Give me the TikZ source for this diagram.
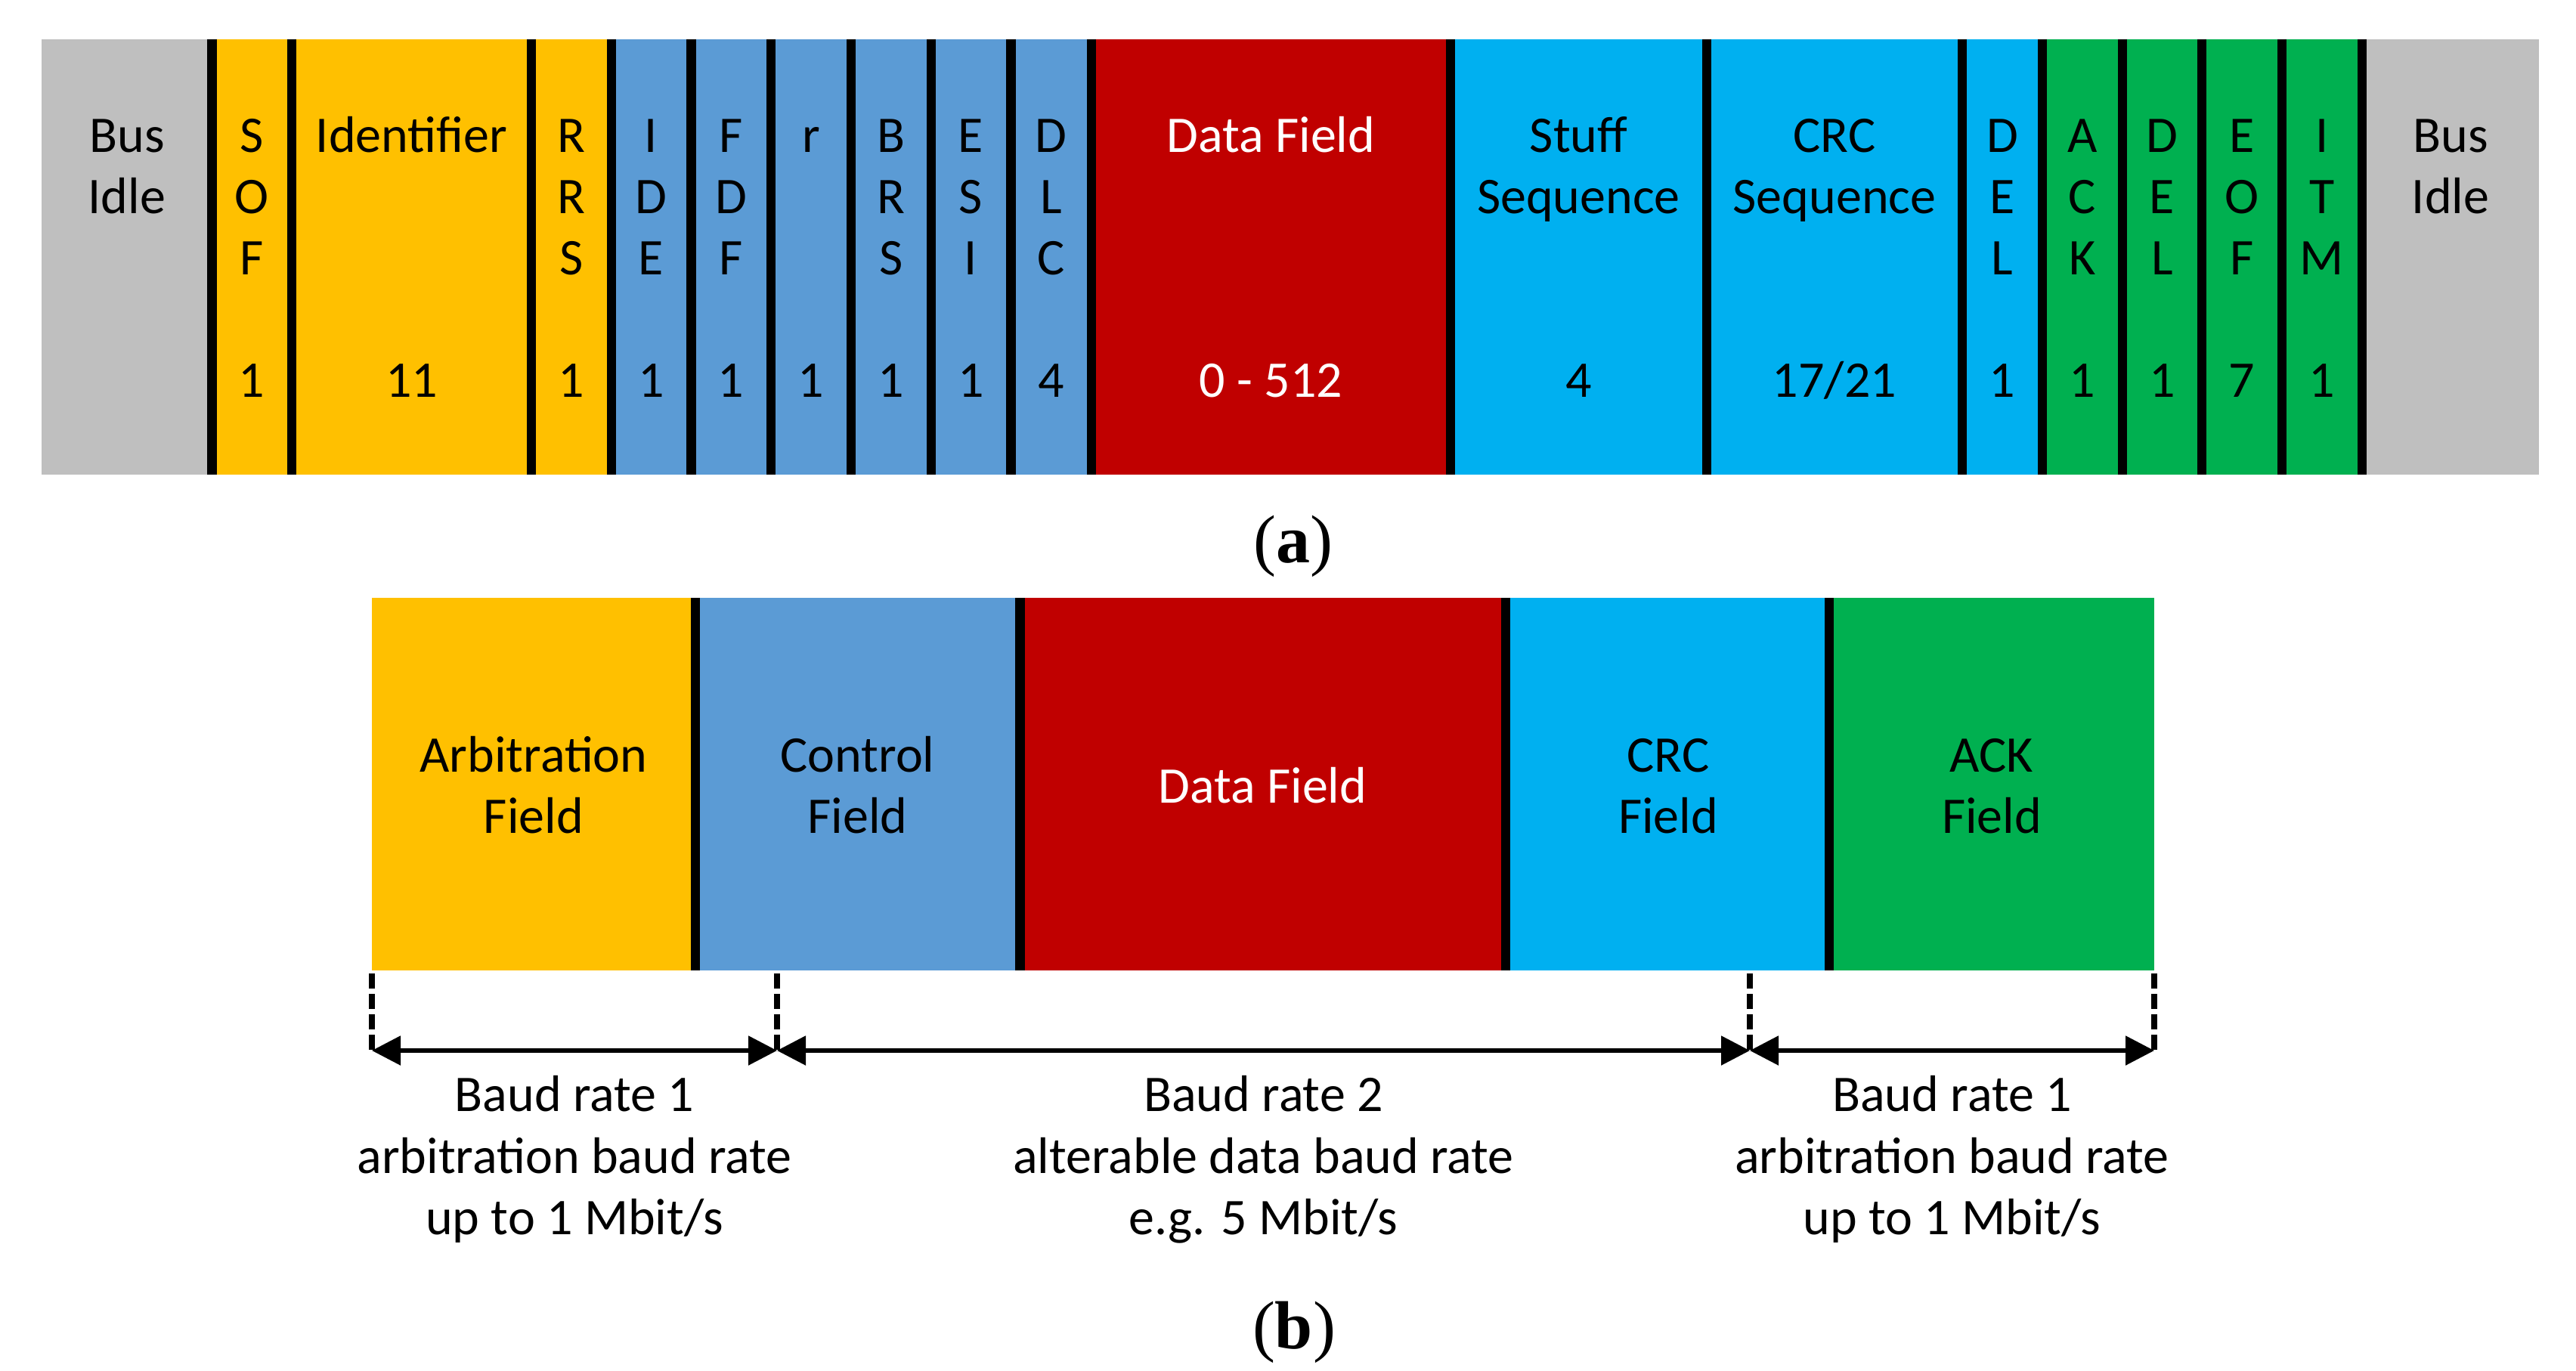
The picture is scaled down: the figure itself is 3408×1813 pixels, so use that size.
\documentclass[tikz,border=0pt]{standalone}
\usepackage{fontspec}
\setmainfont{Carlito}
\newfontfamily\capfont{Liberation Serif}
\usetikzlibrary{arrows.meta}
\definecolor{cgray}{HTML}{BFBFBF}
\definecolor{cyel}{HTML}{FFC000}
\definecolor{cblue}{HTML}{5B9BD5}
\definecolor{cred}{HTML}{C00000}
\definecolor{ccyan}{HTML}{00B0F0}
\definecolor{cgreen}{HTML}{00B050}
\newcommand{\lblfont}{\fontsize{17}{20.25}\selectfont}
\tikzset{
  lab/.style={anchor=base, inner sep=0pt, font=\lblfont, text=black},
  wlab/.style={lab, text=white},
  capt/.style={anchor=base, inner sep=0pt, font=\capfont\fontsize{22.5}{27}\selectfont},
  sepline/.style={line width=3.1pt, black},
  dsh/.style={line width=2pt, dash pattern=on 5pt off 1.75pt},
  dimarrow/.style={line width=1.4pt, {Triangle[length=9.5pt,width=9.5pt]}-{Triangle[length=9.5pt,width=9.5pt]}}
}
\begin{document}
\begin{tikzpicture}[x=0.25pt,y=-0.25pt]
\useasboundingbox (0,0) rectangle (3408,1813);
% ---------- panel (a) ----------
\fill[cgray]  (55,51.5)   rectangle (280.5,627.5);
\fill[cyel]   (280.5,51.5) rectangle (809,627.5);
\fill[cblue]  (809,51.5)  rectangle (1444,627.5);
\fill[cred]   (1444,51.5) rectangle (1919,627.5);
\fill[ccyan]  (1919,51.5) rectangle (2702,627.5);
\fill[cgreen] (2702,51.5) rectangle (3125,627.5);
\fill[cgray]  (3125,51.5) rectangle (3359,627.5);
\foreach \x in {280.5,386,703,809,914.5,1020,1126,1232,1337.5,1444,1919,2258,2596,2702,2808,2913,3019,3125}
  \draw[sepline] (\x,51.5) -- (\x,627.5);
% texts row baselines: 201, 282, 363, 525
\node[lab] (bil1) at (168,201) {Bus};
\node[lab] (bil2) at (168,282) {Idle};
\node[lab] (sof1) at (333,201) {S};
\node[lab] (sof2) at (333,282) {O};
\node[lab] (sof3) at (333,363) {F};
\node[lab] (sof4) at (333,525) {1};
\node[lab] (id1) at (544.5,201) {Identifier};
\node[lab] (id4) at (544.5,525) {11};
\node[lab] (rrs1) at (756,201) {R};
\node[lab] (rrs2) at (756,282) {R};
\node[lab] (rrs3) at (756,363) {S};
\node[lab] (rrs4) at (756,525) {1};
\node[lab] (ide1) at (861.5,201) {I};
\node[lab] (ide2) at (861.5,282) {D};
\node[lab] (ide3) at (861.5,363) {E};
\node[lab] (ide4) at (861.5,525) {1};
\node[lab] (fdf1) at (967,201) {F};
\node[lab] (fdf2) at (967,282) {D};
\node[lab] (fdf3) at (967,363) {F};
\node[lab] (fdf4) at (967,525) {1};
\node[lab] (r1) at (1073,201) {r};
\node[lab] (r4) at (1073,525) {1};
\node[lab] (brs1) at (1179,201) {B};
\node[lab] (brs2) at (1179,282) {R};
\node[lab] (brs3) at (1179,363) {S};
\node[lab] (brs4) at (1179,525) {1};
\node[lab] (esi1) at (1284.5,201) {E};
\node[lab] (esi2) at (1284.5,282) {S};
\node[lab] (esi3) at (1284.5,363) {I};
\node[lab] (esi4) at (1284.5,525) {1};
\node[lab] (dlc1) at (1390.5,201) {D};
\node[lab] (dlc2) at (1390.5,282) {L};
\node[lab] (dlc3) at (1390.5,363) {C};
\node[lab] (dlc4) at (1390.5,525) {4};
\node[wlab] (df1) at (1681.5,201) {Data Field};
\node[wlab] (df4) at (1681.5,525) {0 - 512};
\node[lab] (st1) at (2088.5,201) {Stuff};
\node[lab] (st2) at (2088.5,282) {Sequence};
\node[lab] (st4) at (2088.5,525) {4};
\node[lab] (crc1) at (2427,201) {CRC};
\node[lab] (crc2) at (2427,282) {Sequence};
\node[lab] (crc4) at (2427,525) {17/21};
\node[lab] (del1) at (2649,201) {D};
\node[lab] (del2) at (2649,282) {E};
\node[lab] (del3) at (2649,363) {L};
\node[lab] (del4) at (2649,525) {1};
\node[lab] (ack1) at (2755,201) {A};
\node[lab] (ack2) at (2755,282) {C};
\node[lab] (ack3) at (2755,363) {K};
\node[lab] (ack4) at (2755,525) {1};
\node[lab] (dl1) at (2860.5,201) {D};
\node[lab] (dl2) at (2860.5,282) {E};
\node[lab] (dl3) at (2860.5,363) {L};
\node[lab] (dl4) at (2860.5,525) {1};
\node[lab] (eof1) at (2966,201) {E};
\node[lab] (eof2) at (2966,282) {O};
\node[lab] (eof3) at (2966,363) {F};
\node[lab] (eof4) at (2966,525) {7};
\node[lab] (itm1) at (3072,201) {I};
\node[lab] (itm2) at (3072,282) {T};
\node[lab] (itm3) at (3072,363) {M};
\node[lab] (itm4) at (3072,525) {1};
\node[lab] (bir1) at (3242,201) {Bus};
\node[lab] (bir2) at (3242,282) {Idle};
\node[capt] (capa) at (1711,744) {(\textbf{a})};
% ---------- panel (b) ----------
\fill[cyel]   (492,791)    rectangle (920,1283.5);
\fill[cblue]  (920,791)    rectangle (1349.5,1283.5);
\fill[cred]   (1349.5,791) rectangle (1992,1283.5);
\fill[ccyan]  (1992,791)   rectangle (2420,1283.5);
\fill[cgreen] (2420,791)   rectangle (2850,1283.5);
\foreach \x in {920,1349.5,1992,2420}
  \draw[sepline] (\x,791) -- (\x,1283.5);
\node[lab] (arb1) at (706,1021) {Arbitration};
\node[lab] (arb2) at (706,1102) {Field};
\node[lab] (ctl1) at (1134.5,1021) {Control};
\node[lab] (ctl2) at (1134.5,1102) {Field};
\node[wlab] (dat1) at (1670.5,1062) {Data Field};
\node[lab] (crcf1) at (2207,1021) {CRC};
\node[lab] (crcf2) at (2207,1102) {Field};
\node[lab] (ackf1) at (2635,1021) {ACK};
\node[lab] (ackf2) at (2635,1102) {Field};
% dimension lines
\coordinate (q0) at (492,1288);
\coordinate (q1) at (1028,1288);
\coordinate (q2) at (2315,1288);
\coordinate (q3) at (2850,1288);
\coordinate (p0) at (492,1390);
\coordinate (p1) at (1028,1390);
\coordinate (p2) at (2315,1390);
\coordinate (p3) at (2850,1390);
\draw[dsh] (q0) -- (p0);
\draw[dsh] (q1) -- (p1);
\draw[dsh] (q2) -- (p2);
\draw[dsh] (q3) -- (p3);
\draw[dimarrow] (p0) -- (p1);
\draw[dimarrow] (p1) -- (p2);
\draw[dimarrow] (p2) -- (p3);
\node[lab] (br1a) at (760,1470) {Baud rate 1};
\node[lab] (br1b) at (760,1552) {arbitration baud rate};
\node[lab] (br1c) at (760,1633) {up to 1 Mbit/s};
\node[lab] (br2a) at (1671.5,1470) {Baud rate 2};
\node[lab] (br2b) at (1671.5,1552) {alterable data baud rate};
\node[lab] (br2c) at (1671.5,1633) {e.g. 5 Mbit/s};
\node[lab] (br3a) at (2582.5,1470) {Baud rate 1};
\node[lab] (br3b) at (2582.5,1552) {arbitration baud rate};
\node[lab] (br3c) at (2582.5,1633) {up to 1 Mbit/s};
\node[capt] (capb) at (1712,1784) {(\textbf{b})};
\end{tikzpicture}
\end{document}
